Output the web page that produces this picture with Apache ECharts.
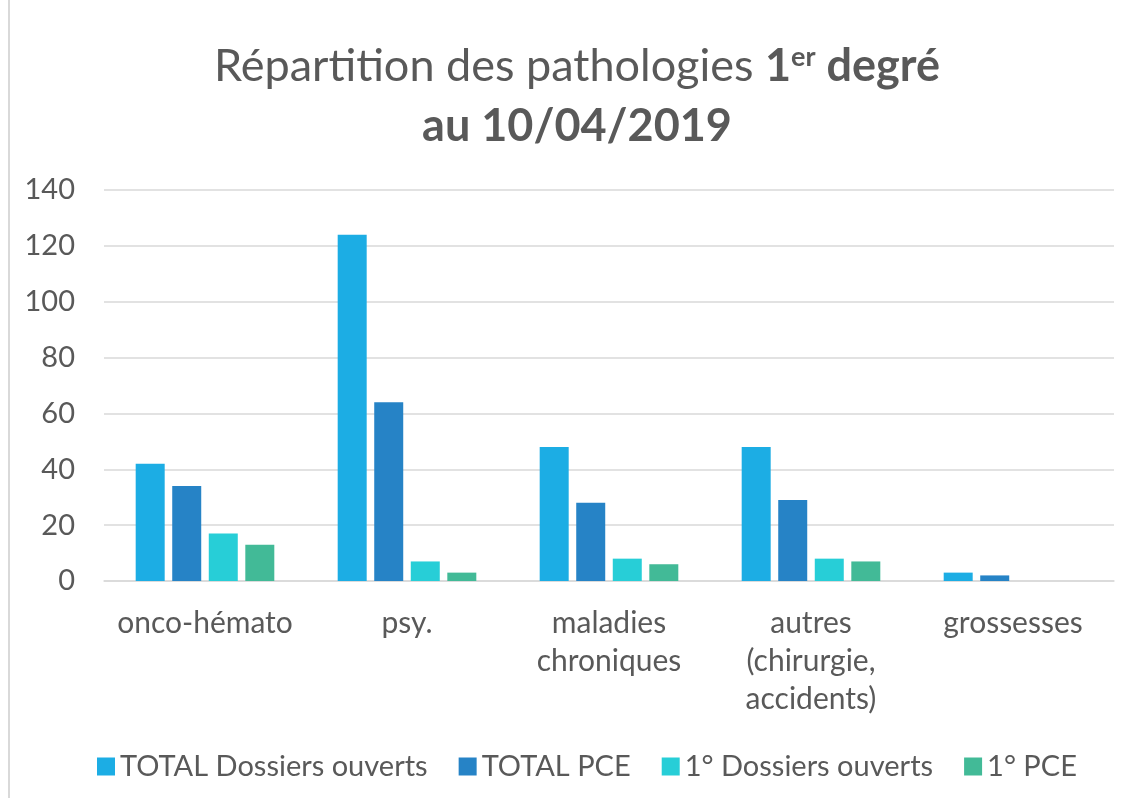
<!DOCTYPE html>
<html lang="fr">
<head>
  <meta charset="UTF-8">
  <title>Répartition des pathologies 1er degré</title>
  <script src="https://cdn.jsdelivr.net/npm/echarts@6/dist/echarts.min.js"></script>
  <style>
    html, body { margin: 0; padding: 0; background: #fff; }
    #chart { width: 1132px; height: 798px; }
  </style>
</head>
<body>
  <div id="chart"></div>
  <script>
    const categories = ['onco-hémato', 'psy.', 'maladies\nchroniques', 'autres\n(chirurgie,\naccidents)', 'grossesses'];
    const seriesNames = ['TOTAL Dossiers ouverts', 'TOTAL PCE', '1° Dossiers ouverts', '1° PCE'];
    const totalDossiers = [42, 124, 48, 48, 3];
    const totalPCE = [34, 64, 28, 29, 2];
    const premierDossiers = [17, 7, 8, 8, 0];
    const premierPCE = [13, 3, 6, 7, 0];
    const colors = ['#1CADE4', '#2683C6', '#27CED7', '#42BA97'];

    const FONT = 'Lato, "Open Sans", sans-serif';
    const TXT = '#595959';
    const chart = echarts.init(document.getElementById('chart'));

    const values = [totalDossiers, totalPCE, premierDossiers, premierPCE];

    chart.setOption({
      backgroundColor: '#fff',
      animation: false,
      color: colors,
      title: {
        left: 572,
        textAlign: 'center',
        top: 31,
        text: '{n|Répartition des pathologies }{b|1}{sup|er}{b| degré}\n{b|au 10/04/2019}',
        textStyle: {
          rich: {
            n: { fontFamily: FONT, fontSize: 45, fontWeight: 'normal', color: TXT, lineHeight: 60 },
            b: { fontFamily: FONT, fontSize: 45, fontWeight: 'bold', color: TXT, lineHeight: 60 },
            sup: { fontFamily: FONT, fontSize: 27, fontWeight: 'bold', color: TXT, lineHeight: 60, padding: [0, 0, 17, 0] }
          }
        }
      },
      legend: {
        data: seriesNames,
        left: 92,
        top: 747,
        itemWidth: 18,
        itemHeight: 18,
        itemGap: 31,
        icon: 'rect',
        textStyle: { fontFamily: FONT, fontSize: 29, color: TXT }
      },
      grid: { left: 104, right: 18, top: 190, bottom: 217, containLabel: false },
      xAxis: {
        type: 'category',
        data: categories,
        axisLine: { lineStyle: { color: '#d9d9d9', width: 1.5 } },
        axisTick: { show: false },
        axisLabel: { fontFamily: FONT, fontSize: 30, color: TXT, lineHeight: 38, margin: 23, interval: 0 }
      },
      yAxis: {
        type: 'value',
        min: 0,
        max: 140,
        interval: 20,
        axisLine: { show: false },
        axisTick: { show: false },
        splitLine: { lineStyle: { color: '#d9d9d9', width: 1.5 } },
        axisLabel: { fontFamily: FONT, fontSize: 29, color: TXT, margin: 29 }
      },
      graphic: [{
        type: 'line',
        shape: { x1: 9, y1: 0, x2: 9, y2: 798 },
        style: { stroke: '#d9d9d9', lineWidth: 2 }
      }],
      series: seriesNames.map((name, i) => ({
        name: name,
        type: 'bar',
        data: values[i],
        barWidth: 29,
        barGap: '26%',
        itemStyle: { color: colors[i] }
      }))
    });
  </script>
</body>
</html>
